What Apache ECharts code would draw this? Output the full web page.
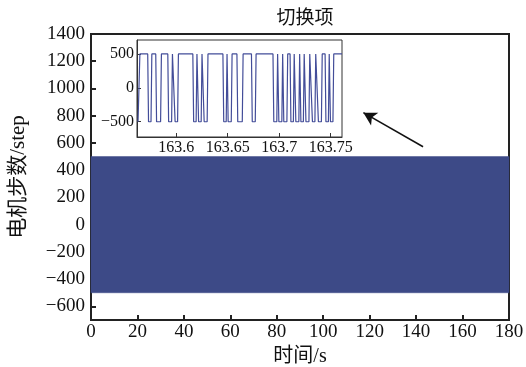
<!DOCTYPE html>
<html>
<head>
<meta charset="utf-8">
<script src="https://cdn.jsdelivr.net/npm/echarts@6/dist/echarts.min.js"></script>
<style>
  html, body { margin: 0; padding: 0; background: #fff; }
  #chart { width: 526px; height: 367px; }
</style>
</head>
<body>
<div id="chart"></div>
<script>
// 主图：电机步数在 ±500 之间高频切换，显示为一整块色带
const chartTitle = '切换项'
const xTicks = [0, 20, 40, 60, 80, 100, 120, 140, 160, 180]
const yTicks = [-600, -400, -200, 0, 200, 400, 600, 800, 1000, 1200, 1400]
const bandTime = [0, 180]
const bandUpper = [500, 500]
const bandLower = [-500, -500]

// 局部放大图 163.56 ~ 163.76 s
const insetXTicks = [163.6, 163.65, 163.7, 163.75]
const insetYTicks = [-500, 0, 500]
const insetTime = [
  163.5630, 163.5640, 163.5648,
  163.5724, 163.5732, 163.5756, 163.5764,
  163.5802, 163.5810, 163.5849, 163.5857,
  163.5919, 163.5927, 163.5956, 163.5964,
  163.5982, 163.5990, 163.6014, 163.6022,
  163.6162, 163.6170, 163.6194, 163.6202,
  163.6210, 163.6218, 163.6243, 163.6251,
  163.6264, 163.6272, 163.6301, 163.6309,
  163.6454, 163.6462, 163.6486, 163.6494,
  163.6497, 163.6505, 163.6535, 163.6543,
  163.6590, 163.6598, 163.6642, 163.6650,
  163.6731, 163.6739, 163.6768, 163.6776,
  163.6940, 163.6948, 163.6977, 163.6985,
  163.6989, 163.6997, 163.7026, 163.7034,
  163.7037, 163.7045, 163.7075, 163.7083,
  163.7106, 163.7114, 163.7138, 163.7146,
  163.7154, 163.7162, 163.7191, 163.7199,
  163.7203, 163.7211, 163.7235, 163.7243,
  163.7252, 163.7260, 163.7289, 163.7297,
  163.7315, 163.7323, 163.7347, 163.7355,
  163.7373, 163.7381, 163.7410, 163.7418,
  163.7446, 163.7454, 163.7478, 163.7486,
  163.7490, 163.7498, 163.7522, 163.7530,
  163.7610
]
const insetValue = [
  -500, -500, 500,
  500, -500, -500, 500,
  500, -500, -500, 500,
  500, -500, -500, 500,
  500, -500, -500, 500,
  500, -500, -500, 500,
  500, -500, -500, 500,
  500, -500, -500, 500,
  500, -500, -500, 500,
  500, -500, -500, 500,
  500, -500, -500, 500,
  500, -500, -500, 500,
  500, -500, -500, 500,
  500, -500, -500, 500,
  500, -500, -500, 500,
  500, -500, -500, 500,
  500, -500, -500, 500,
  500, -500, -500, 500,
  500, -500, -500, 500,
  500, -500, -500, 500,
  500, -500, -500, 500,
  500, -500, -500, 500,
  500, -500, -500, 500,
  500
]

// 箭头 (数据坐标)
const arrowFrom = [143, 572]
const arrowTo = [117.3, 822]

const serif = '"Liberation Serif", "Times New Roman", serif'
const cjk = '"Liberation Serif", "Noto Sans CJK SC", serif'
const minus = (v) => String(v).replace('-', '\u2212')

const chart = echarts.init(document.getElementById('chart'), null, { renderer: 'canvas' })

// 色带：上下包络之间填充
const bandSeries = {
  name: '电机步数',
  type: 'custom',
  xAxisIndex: 0, yAxisIndex: 0,
  silent: true,
  data: bandTime.map((t, i) => [t, bandUpper[i], bandLower[i]]),
  renderItem: function (params, api) {
    if (params.dataIndex >= bandTime.length - 1) return
    const j = params.dataIndex
    const p1 = api.coord([bandTime[j], bandUpper[j]])
    const p2 = api.coord([bandTime[j + 1], bandUpper[j + 1]])
    const p3 = api.coord([bandTime[j + 1], bandLower[j + 1]])
    const p4 = api.coord([bandTime[j], bandLower[j]])
    return {
      type: 'polygon',
      shape: { points: [p1, p2, p3, p4] },
      style: { fill: '#3d4a87', stroke: '#3d4a87', lineWidth: 0.5 },
    }
  },
  encode: { x: 0, y: [1, 2] },
  z: 2,
}

const option = {
  backgroundColor: '#fff',
  animation: false,
  title: {
    text: chartTitle,
    left: 300,
    textAlign: 'center',
    top: 5,
    textStyle: { fontFamily: cjk, fontSize: 19, fontWeight: 'normal', color: '#111' },
  },
  grid: [
    {
      left: 91, right: 17, top: 34, bottom: 47,
      containLabel: false, outerBoundsMode: 'none',
      show: true, borderColor: '#222', borderWidth: 2, backgroundColor: 'transparent',
    },
    {
      left: 137, right: 184, top: 40, bottom: 230,
      containLabel: false, outerBoundsMode: 'none',
      show: true, borderColor: '#333', borderWidth: 1, backgroundColor: '#fff', z: 5,
    },
  ],
  xAxis: [
    {
      type: 'value', gridIndex: 0, min: 0, max: 180, interval: 20,
      name: '时间/s', nameLocation: 'middle', nameGap: 21,
      nameTextStyle: { fontFamily: cjk, fontSize: 20, color: '#111' },
      axisLine: { onZero: false, lineStyle: { color: '#222', width: 2 } },
      axisTick: { inside: true, length: 5, lineStyle: { color: '#222', width: 2 } },
      axisLabel: {
        margin: 3, fontFamily: serif, fontSize: 19, color: '#111',
        customValues: xTicks, formatter: minus,
      },
      splitLine: { show: false },
    },
    {
      type: 'value', gridIndex: 1, min: 163.562, max: 163.761,
      axisLine: { onZero: false, lineStyle: { color: '#333', width: 1 } },
      axisTick: { inside: true, length: 4, customValues: insetXTicks, lineStyle: { color: '#333' } },
      axisLabel: {
        margin: 3, fontFamily: serif, fontSize: 16, color: '#111',
        customValues: insetXTicks, hideOverlap: false,
      },
      splitLine: { show: false },
      z: 6,
    },
  ],
  yAxis: [
    {
      type: 'value', gridIndex: 0, min: -700, max: 1400,
      name: '电机步数/step', nameLocation: 'middle', nameGap: 62,
      nameTextStyle: { fontFamily: cjk, fontSize: 21, color: '#111' },
      axisLine: { onZero: false, lineStyle: { color: '#222', width: 2 } },
      axisTick: { inside: true, length: 5, customValues: yTicks, lineStyle: { color: '#222', width: 2 } },
      axisLabel: {
        margin: 6, fontFamily: serif, fontSize: 19, color: '#111',
        customValues: yTicks, formatter: minus,
      },
      splitLine: { show: false },
    },
    {
      type: 'value', gridIndex: 1, min: -725, max: 705,
      axisLine: { onZero: false, lineStyle: { color: '#333', width: 1 } },
      axisTick: { inside: true, length: 4, customValues: insetYTicks, lineStyle: { color: '#333' } },
      axisLabel: {
        margin: 3, fontFamily: serif, fontSize: 16, color: '#111',
        customValues: insetYTicks, formatter: minus,
      },
      splitLine: { show: false },
      z: 6,
    },
  ],
  series: [
    bandSeries,
    {
      name: '箭头',
      type: 'line', xAxisIndex: 0, yAxisIndex: 0,
      data: [],
      symbol: 'none', silent: true,
      markLine: {
        silent: true,
        symbol: ['none', 'arrow'],
        symbolSize: [11, 13],
        label: { show: false },
        lineStyle: { color: '#111', width: 1.5, type: 'solid' },
        data: [[{ coord: arrowFrom }, { coord: arrowTo }]],
      },
    },
    {
      name: '局部',
      type: 'line', xAxisIndex: 1, yAxisIndex: 1,
      data: insetTime.map((t, i) => [t, insetValue[i]]),
      symbol: 'none', silent: true, z: 7,
      lineStyle: { color: '#434d99', width: 1.2 },
    },
  ],
}

chart.setOption(option, true)
</script>
</body>
</html>
